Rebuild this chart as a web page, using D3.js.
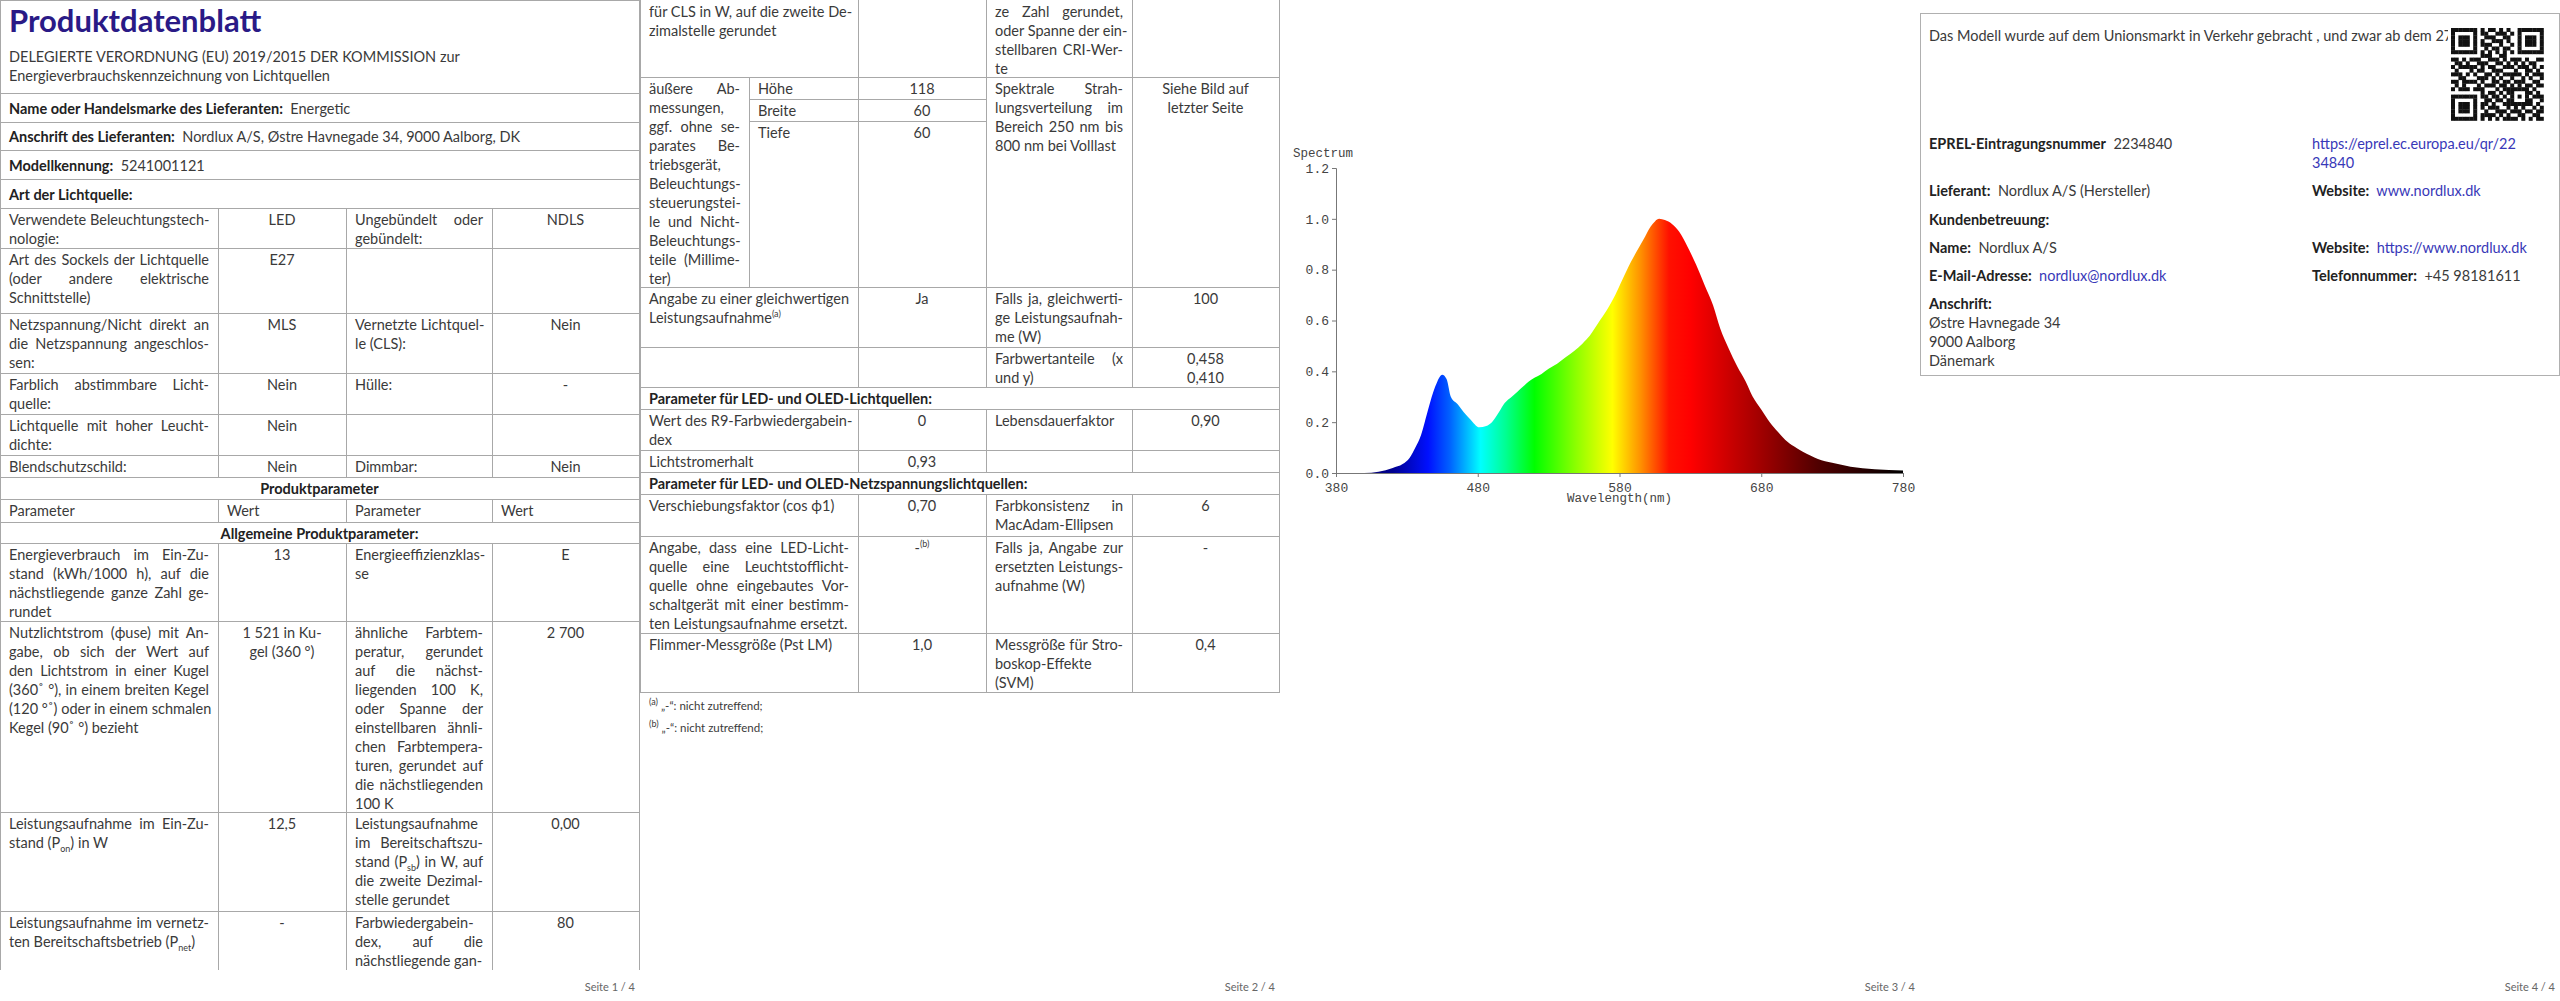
<!DOCTYPE html>
<html><head><meta charset="utf-8">
<script src="https://cdn.jsdelivr.net/npm/d3@7"></script>
<style>
body{margin:0;width:2560px;height:1001px;background:#fff;position:relative;overflow:hidden;font-family:Lato,"Open Sans",sans-serif;color:#3a3a3a;font-size:14.5px}
.b{position:absolute;box-sizing:border-box;border:1px solid #a8a8a8}
.t{position:absolute;white-space:nowrap;line-height:19px;height:19px}
.j{text-align:justify;text-align-last:justify}
.bold{font-weight:bold;color:#222}
sub,sup{font-size:9px;line-height:0}
a{color:#3838b8}
</style></head><body>
<script>
// ---------- data ----------
const wavelengths   = [380,400,410,420,427,432,436,440,445,450,455,458,461,466,470,475,481,486,490,495,499,504,508,512,516,520,525,530,536,542,548,554,559,565,571,577,582,588,594,598,602,605,608,612,617,622,628,634,640,646,651,657,663,669,674,680,686,692,697,703,709,715,720,730,743,760,780];
const spectrumValues= [0,0,0.005,0.02,0.035,0.06,0.1,0.15,0.25,0.34,0.387,0.37,0.3,0.27,0.24,0.21,0.18,0.185,0.2,0.24,0.275,0.3,0.32,0.34,0.36,0.375,0.39,0.41,0.43,0.455,0.48,0.51,0.54,0.59,0.64,0.7,0.76,0.83,0.89,0.93,0.97,0.99,1.0,0.995,0.98,0.95,0.89,0.82,0.74,0.66,0.57,0.49,0.42,0.36,0.3,0.25,0.2,0.16,0.13,0.105,0.085,0.068,0.055,0.04,0.025,0.015,0.01];
const xTicks = [380,480,580,680,780];
const yTicks = [0,0.2,0.4,0.6,0.8,1.0,1.2];
const specColors = [[380,"#0a0050"],[420,"#000090"],[445,"#0010ff"],[460,"#0060ff"],[482,"#00ffff"],[500,"#00ff90"],[520,"#00ff00"],[550,"#90ff00"],[575,"#ffff00"],[595,"#ff9000"],[615,"#ff1000"],[630,"#ff0000"],[680,"#a00000"],[720,"#500000"],[780,"#000000"]];

const page1Rows = [
 [208,248,["Verwendete Beleuchtungstech-","nologie:"],["LED"],["Ungebündelt oder","gebündelt:"],["NDLS"]],
 [248,313,["Art des Sockels der Lichtquelle","(oder andere elektrische","Schnittstelle)"],["E27"],[],[]],
 [313,373,["Netzspannung/Nicht direkt an","die Netzspannung angeschlos-","sen:"],["MLS"],["Vernetzte Lichtquel-","le (CLS):"],["Nein"]],
 [373,414,["Farblich abstimmbare Licht-","quelle:"],["Nein"],["Hülle:"],["-"]],
 [414,455,["Lichtquelle mit hoher Leucht-","dichte:"],["Nein"],[],[]],
 [455,477,["Blendschutzschild:"],["Nein"],["Dimmbar:"],["Nein"]],
 [499,522,["Parameter"],["Wert"],["Parameter"],["Wert"]],
 [543,621,["Energieverbrauch im Ein-Zu-","stand (kWh/1000 h), auf die","nächstliegende ganze Zahl ge-","rundet"],["13"],["Energieeffizienzklas-","se"],["E"]],
 [621,812,["Nutzlichtstrom (ϕuse) mit An-","gabe, ob sich der Wert auf","den Lichtstrom in einer Kugel","(360˚ °), in einem breiten Kegel","(120 °˚) oder in einem schmalen","Kegel (90˚ °) bezieht"],["1 521 in Ku-","gel (360 °)"],["ähnliche Farbtem-","peratur, gerundet","auf die nächst-","liegenden 100 K,","oder Spanne der","einstellbaren ähnli-","chen Farbtempera-","turen, gerundet auf","die nächstliegenden","100 K"],["2 700"]],
 [812,911,["Leistungsaufnahme im Ein-Zu-","stand (P<sub>on</sub>) in W"],["12,5"],["Leistungsaufnahme","im Bereitschaftszu-","stand (P<sub>sb</sub>) in W, auf","die zweite Dezimal-","stelle gerundet"],["0,00"]],
 [911,969,["Leistungsaufnahme im vernetz-","ten Bereitschaftsbetrieb (P<sub>net</sub>)"],["-"],["Farbwiedergabein-","dex, auf die","nächstliegende gan-"],["80"]]
];
const page2Rows = [
 [0,77,["für CLS in W, auf die zweite De-","zimalstelle gerundet"],[],["ze Zahl gerundet,","oder Spanne der ein-","stellbaren CRI-Wer-","te"],[]],
 [287,347,["Angabe zu einer gleichwertigen","Leistungsaufnahme<sup>(a)</sup>"],["Ja"],["Falls ja, gleichwerti-","ge Leistungsaufnah-","me (W)"],["100"]],
 [347,387,[],[],["Farbwertanteile (x","und y)"],["0,458","0,410"]],
 [409,450,["Wert des R9-Farbwiedergabein-","dex"],["0"],["Lebensdauerfaktor"],["0,90"]],
 [450,472,["Lichtstromerhalt"],["0,93"],[],[]],
 [494,536,["Verschiebungsfaktor (cos ϕ1)"],["0,70"],["Farbkonsistenz in","MacAdam-Ellipsen"],["6"]],
 [536,633,["Angabe, dass eine LED-Licht-","quelle eine Leuchtstofflicht-","quelle ohne eingebautes Vor-","schaltgerät mit einer bestimm-","ten Leistungsaufnahme ersetzt."],["-<sup>(b)</sup>"],["Falls ja, Angabe zur","ersetzten Leistungs-","aufnahme (W)"],["-"]],
 [633,692,["Flimmer-Messgröße (Pst LM)"],["1,0"],["Messgröße für Stro-","boskop-Effekte","(SVM)"],["0,4"]]
];
const dimLabels = ["Höhe","Breite","Tiefe"], dimValues = ["118","60","60"];
const qrRows = ["1111111010110101001111111","1000001011001110101000001","1011101001110011001011101","1011101010011101001011101","1011101011100100101011101","1000001001011011001000001","1111111010101010101111111","0000000011100110000000000","1101011100111010111010011","0110100111001101010101100","1011111010110011101110101","0100010110011100010011010","1110101001101011111010111","0011000111010100100101001","1101111010011011011100110","0101000101110110101011011","1011101110001011111110100","0000000010110101100011010","1111111011011010101010111","1000001001101101100011001","1011101011010011111111010","1011101010111001010100101","1011101001001110111011011","1000001011110101001100110","1111111010101011110101011"];

// ---------- helpers ----------
const body = d3.select("body");
function box(x0,y0,x1,y1,style){const d=body.append("div").attr("class","b").style("left",x0+"px").style("top",y0+"px").style("width",(x1-x0+1)+"px").style("height",(y1-y0+1)+"px"); if(style) d.attr("style",d.attr("style")+";"+style); return d;}
function lines(x0,x1,y0,ls,align,pad){
  pad = pad==null?9:pad;
  ls.forEach((s,i)=>{
    const d=body.append("div").attr("class","t").style("top",(y0+2+i*19)+"px").html(s);
    if(align==="center"){d.style("left",x0+"px").style("width",(x1-x0)+"px").style("text-align","center");}
    else{d.style("left",(x0+pad)+"px").style("width",(x1-x0-2*pad)+"px");
      if(i<ls.length-1) d.classed("j",true);}
  });
}
function text(x,y,html,cls,style){const d=body.append("div").attr("class","t "+(cls||"")).style("left",x+"px").style("top",(y-9)+"px").html(html); if(style)d.attr("style",d.attr("style")+";"+style); return d;}
function gridRows(ox,rows){
  const cx=[0,218,346,492,639].map(v=>v+ox);
  rows.forEach(r=>{
    for(let c=0;c<4;c++){
      const bb=box(cx[c],r[0],cx[c+1],r[1]);
      if(r[0]===0) bb.style("border-top","none");
      if(r[1]===969) bb.style("border-bottom","none");
      lines(cx[c],cx[c+1],r[0],r[c+2],(c%2===1 && !(r[2][0]==="Parameter"))?"center":"left");
    }
  });
}

// ---------- page 1 ----------
box(0,0,639,93);
text(9,21,"Produktdatenblatt","", "font-size:31px;font-weight:bold;color:#2a1a86;height:36px;line-height:36px;top:2px");
text(9,56,"DELEGIERTE VERORDNUNG (EU) 2019/2015 DER KOMMISSION zur");
text(9,75,"Energieverbrauchskennzeichnung von Lichtquellen");
[[93,122,"<b class='bold'>Name oder Handelsmarke des Lieferanten:</b>&nbsp; Energetic"],
 [122,150,"<b class='bold'>Anschrift des Lieferanten:</b>&nbsp; Nordlux A/S, Østre Havnegade 34, 9000 Aalborg, DK"],
 [150,179,"<b class='bold'>Modellkennung:</b>&nbsp; 5241001121"],
 [179,208,"<b class='bold'>Art der Lichtquelle:</b>"]].forEach(r=>{box(0,r[0],639,r[1]);text(9,(r[0]+r[1])/2,r[2]);});
gridRows(0,page1Rows);
box(0,477,639,499); text(0,488,"Produktparameter","bold","width:639px;text-align:center");
box(0,522,639,543); text(0,532.5,"Allgemeine Produktparameter:","bold","width:639px;text-align:center");
// Wert header left aligned handled: center cols for header row set left
// ---------- page 2 ----------
gridRows(640,page2Rows);
// dimension block
box(640,77,858,287); box(858,77,986,287); box(986,77,1132,287); box(1132,77,1279,287);
lines(640,749,77,["äußere Ab-","messungen,","ggf. ohne se-","parates Be-","triebsgerät,","Beleuchtungs-","steuerungstei-","le und Nicht-","Beleuchtungs-","teile (Millime-","ter)"].map((s,i,a)=>s),"left");
box(749,77,986,287);
[[77,99],[99,121],[121,287]].forEach((r,i)=>{box(749,r[0],858,r[1]);box(858,r[0],986,r[1]);
  text(758,r[0]+11,dimLabels[i]); text(858,r[0]+11,dimValues[i],"","width:128px;text-align:center");});
lines(986,1132,77,["Spektrale Strah-","lungsverteilung im","Bereich 250 nm bis","800 nm bei Volllast"],"left");
lines(1132,1279,77,["Siehe Bild auf","letzter Seite"],"center");
box(640,387,1279,409); text(649,398,"Parameter für LED- und OLED-Lichtquellen:","bold");
box(640,472,1279,494); text(649,483,"Parameter für LED- und OLED-Netzspannungslichtquellen:","bold");
text(649,705,"<sup>(a)</sup> „-“: nicht zutreffend;","","font-size:11.5px");
text(649,727,"<sup>(b)</sup> „-“: nicht zutreffend;","","font-size:11.5px");
// page footers
["Seite 1 / 4","Seite 2 / 4","Seite 3 / 4","Seite 4 / 4"].forEach((s,i)=>text(640*i+535,986,s,"","width:100px;text-align:right;font-size:11px;color:#666"));

// ---------- page 3: spectrum chart ----------
const svg = body.append("svg").style("position","absolute").style("left","0px").style("top","0px").attr("width",2560).attr("height",1001);
const x = d3.scaleLinear().domain([380,780]).range([1336,1903]);
const y = d3.scaleLinear().domain([0,1.2]).range([473,168]);
const grad = svg.append("defs").append("linearGradient").attr("id","spec").attr("gradientUnits","userSpaceOnUse").attr("x1",x(380)).attr("x2",x(780)).attr("y1",0).attr("y2",0);
grad.selectAll("stop").data(specColors).join("stop").attr("offset",d=>(d[0]-380)/400).attr("stop-color",d=>d[1]);
const pts = wavelengths.map((w,i)=>[w,spectrumValues[i]]);
svg.append("path").datum(pts).attr("fill","url(#spec)").attr("d",d3.area().x(d=>x(d[0])).y0(y(0)).y1(d=>y(d[1])).curve(d3.curveMonotoneX));
const mono = "'Liberation Mono','DejaVu Sans Mono',monospace";
const gx = svg.append("g").attr("transform",`translate(0,${y(0)})`).call(d3.axisBottom(x).tickValues(xTicks).tickSize(4).tickFormat(d3.format("d")));
const gy = svg.append("g").attr("transform",`translate(${x(380)},0)`).call(d3.axisLeft(y).tickValues(yTicks).tickSize(4).tickFormat(d3.format(".1f")));
[gx,gy].forEach(g=>{g.selectAll("text").attr("font-family",mono).attr("font-size",13).attr("fill","#444");g.selectAll("line,path").attr("stroke","#777");});
gx.selectAll("text").attr("dy","0.9em");
svg.append("text").attr("x",1293).attr("y",157).attr("font-family",mono).attr("font-size",12.5).attr("fill","#444").text("Spectrum");
svg.append("text").attr("x",(x(380)+x(780))/2).attr("y",502).attr("text-anchor","middle").attr("font-family",mono).attr("font-size",12.5).attr("fill","#444").text("Wavelength(nm)");

// ---------- page 4 ----------
box(1920,13,2559,375,"border-color:#b0b0b0");
text(1929,35,"Das Modell wurde auf dem Unionsmarkt in Verkehr gebracht , und zwar ab dem 27.");
const qs=3.7, qx=2451, qy=28;
body.append("div").style("position","absolute").style("left",(qx-3)+"px").style("top",(qy-3)+"px").style("width","99px").style("height","99px").style("background","#fff");
svg.raise();
qrRows.forEach((row,r)=>row.split("").forEach((c,k)=>{ if(c==="1") svg.append("rect").attr("x",qx+k*qs).attr("y",qy+r*qs).attr("width",qs+0.3).attr("height",qs+0.3).attr("fill","#111");}));
text(1929,143,"<b class='bold'>EPREL-Eintragungsnummer</b>&nbsp; 2234840");
text(2312,143,"<a>https://eprel.ec.europa.eu/qr/22</a>");
text(2312,162,"<a>34840</a>");
text(1929,190,"<b class='bold'>Lieferant:</b>&nbsp; Nordlux A/S (Hersteller)");
text(2312,190,"<b class='bold'>Website:</b>&nbsp; <a>www.nordlux.dk</a>");
text(1929,219,"<b class='bold'>Kundenbetreuung:</b>");
text(1929,247,"<b class='bold'>Name:</b>&nbsp; Nordlux A/S");
text(2312,247,"<b class='bold'>Website:</b>&nbsp; <a>https://www.nordlux.dk</a>");
text(1929,275,"<b class='bold'>E-Mail-Adresse:</b>&nbsp; <a>nordlux@nordlux.dk</a>");
text(2312,275,"<b class='bold'>Telefonnummer:</b>&nbsp; +45 98181611");
text(1929,303,"<b class='bold'>Anschrift:</b>");
text(1929,322,"Østre Havnegade 34");
text(1929,341,"9000 Aalborg");
text(1929,360,"Dänemark");
</script></body></html>
